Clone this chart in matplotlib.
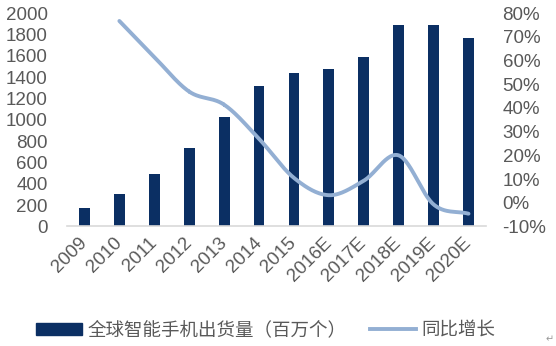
import numpy as np
import matplotlib
matplotlib.use("Agg")
import matplotlib.pyplot as plt
from matplotlib.lines import Line2D
from matplotlib.patches import Patch

plt.rcParams['font.family'] = ['Liberation Sans', 'Noto Sans CJK SC', 'DejaVu Sans']

years = ['2009', '2010', '2011', '2012', '2013', '2014', '2015',
         '2016E', '2017E', '2018E', '2019E', '2020E']
shipments = [172, 304, 495, 732, 1023, 1316, 1441, 1472, 1591, 1888, 1888, 1763]
# growth starts in 2010
growth = [None, 76.7, 61.5, 46.9, 41.4, 27.0, 10.5, 3.2, 9.3, 20.0, -0.7, -4.6]

BAR_COLOR = '#0b2f63'
LINE_COLOR = '#93afd3'
TEXT_COLOR = '#595959'


def smooth(xs, ys, n=30):
    # Catmull-Rom curve through the points (like a smoothed office line)
    xs = np.asarray(xs, float)
    ys = np.asarray(ys, float)
    px = np.concatenate([[2 * xs[0] - xs[1]], xs, [2 * xs[-1] - xs[-2]]])
    py = np.concatenate([[2 * ys[0] - ys[1]], ys, [2 * ys[-1] - ys[-2]]])
    out_x, out_y = [], []
    t = np.linspace(0, 1, n)
    for i in range(1, len(px) - 2):
        for p, out in ((px, out_x), (py, out_y)):
            p0, p1, p2, p3 = p[i - 1], p[i], p[i + 1], p[i + 2]
            out.extend(0.5 * (2 * p1 + (-p0 + p2) * t
                              + (2 * p0 - 5 * p1 + 4 * p2 - p3) * t ** 2
                              + (-p0 + 3 * p1 - 3 * p2 + p3) * t ** 3))
    return out_x, out_y


fig = plt.figure(figsize=(5.56, 3.46), dpi=100)
ax = fig.add_axes([0.1205, 0.3454, 0.7535, 0.6166])
x = np.arange(len(years))
ax.bar(x, shipments, width=0.31, color=BAR_COLOR, zorder=2)
ax.set_xlim(-0.5, len(years) - 0.5)
ax.set_ylim(0, 2000)
ax.set_yticks(range(0, 2001, 200))
ax.set_xticks(x)
ax.set_xticklabels(years, rotation=45, ha='right', va='center',
                   rotation_mode='anchor')
ax.tick_params(axis='both', length=0, labelsize=13.5, colors=TEXT_COLOR)
ax.tick_params(axis='y', pad=14)
ax.tick_params(axis='x', pad=10)
for s in ['top', 'right', 'left']:
    ax.spines[s].set_visible(False)
ax.spines['bottom'].set_color('#d9d9d9')
ax.spines['bottom'].set_linewidth(1.2)

ax2 = ax.twinx()
gx = [i for i, g in zip(x, growth) if g is not None]
gy = [g for g in growth if g is not None]
sx, sy = smooth(gx, gy)
ax2.plot(sx, sy, color=LINE_COLOR, lw=2.8, solid_capstyle='round', zorder=3)
ax2.set_ylim(-10, 80)
ax2.set_yticks(range(-10, 81, 10))
ax2.set_yticklabels([f'{v}%' for v in range(-10, 81, 10)])
ax2.tick_params(axis='y', length=0, labelsize=13.5, colors=TEXT_COLOR, pad=12)
for s in ['top', 'right', 'left', 'bottom']:
    ax2.spines[s].set_visible(False)

handles = [Patch(color=BAR_COLOR), Line2D([], [], color=LINE_COLOR, lw=2.8)]
fig.legend(handles, ['全球智能手机出货量（百万个）', '同比增长'],
           loc='center', bbox_to_anchor=(0.478, 0.044), ncol=2, frameon=False,
           fontsize=13.3, labelcolor=TEXT_COLOR, handlelength=2.45,
           handleheight=0.6, handletextpad=0.3, columnspacing=1.3)

fig.text(0.988, 0.012, '↵', fontsize=7, color='#999999', ha='center')

fig.savefig('out.png', dpi=100)
